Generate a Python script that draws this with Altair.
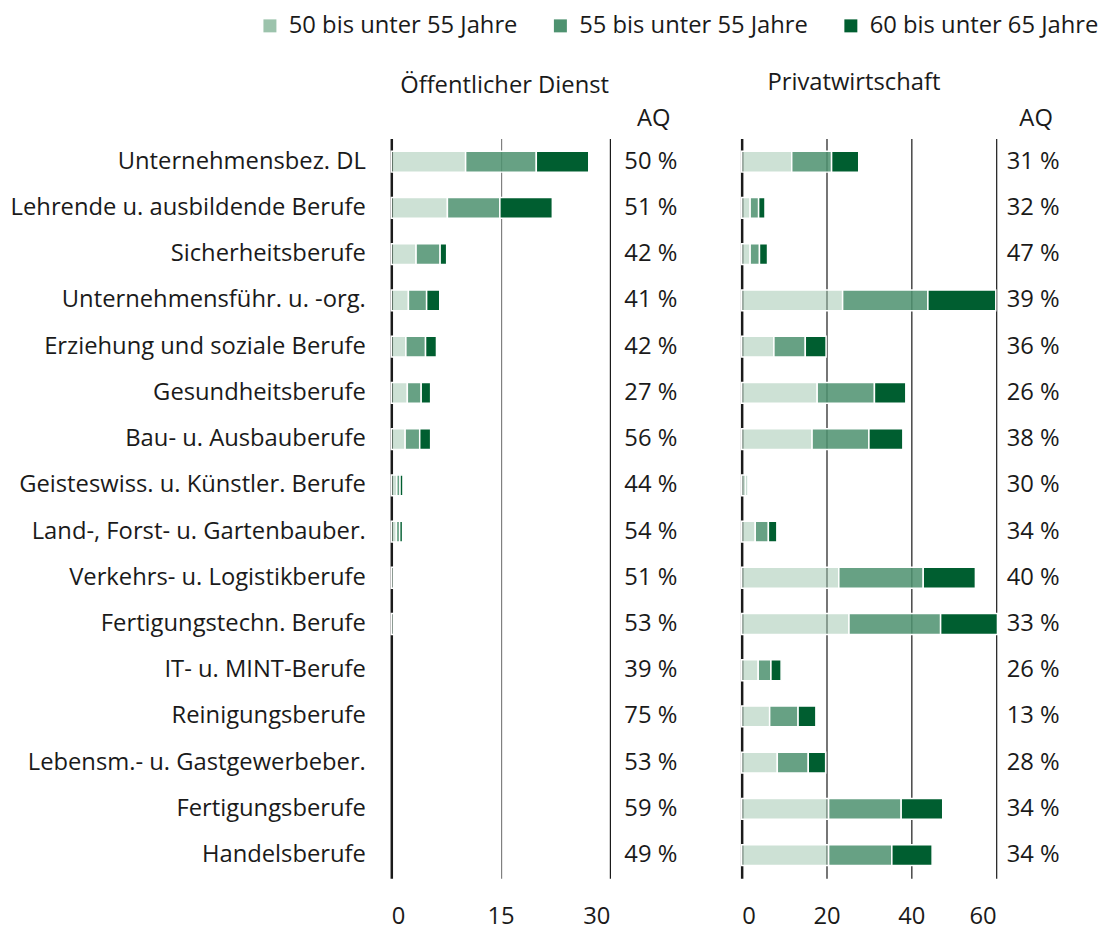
import altair as alt
import pandas as pd

categories = [
    "Unternehmensbez. DL",
    "Lehrende u. ausbildende Berufe",
    "Sicherheitsberufe",
    "Unternehmensführ. u. -org.",
    "Erziehung und soziale Berufe",
    "Gesundheitsberufe",
    "Bau- u. Ausbauberufe",
    "Geisteswiss. u. Künstler. Berufe",
    "Land-, Forst- u. Gartenbauber.",
    "Verkehrs- u. Logistikberufe",
    "Fertigungstechn. Berufe",
    "IT- u. MINT-Berufe",
    "Reinigungsberufe",
    "Lebensm.- u. Gastgewerbeber.",
    "Fertigungsberufe",
    "Handelsberufe",
]
age_groups = ["50 bis unter 55 Jahre", "55 bis unter 55 Jahre", "60 bis unter 65 Jahre"]

# Öffentlicher Dienst
oed_50_55 = [10.2, 7.7, 3.4, 2.35, 2.0, 2.2, 1.9, 0.75, 0.7, 0.3, 0.3, 0, 0, 0, 0, 0]
oed_55_60 = [9.7, 7.2, 3.3, 2.5, 2.7, 1.9, 2.0, 0.45, 0.45, 0, 0, 0, 0, 0, 0, 0]
oed_60_65 = [7.2, 7.2, 0.9, 1.8, 1.5, 1.3, 1.5, 0.4, 0.4, 0, 0, 0, 0, 0, 0, 0]
aq_oed = [50, 51, 42, 41, 42, 27, 56, 44, 54, 51, 53, 39, 75, 53, 59, 49]

# Privatwirtschaft
prv_50_55 = [11.8, 2.0, 2.0, 23.8, 7.6, 17.8, 16.6, 1.0, 3.2, 22.9, 25.3, 3.9, 6.6, 8.4, 20.5, 20.5]
prv_55_60 = [9.4, 2.0, 2.2, 20.1, 7.4, 13.5, 13.4, 0.5, 3.1, 19.9, 21.6, 3.0, 6.7, 7.3, 17.1, 14.9]
prv_60_65 = [6.4, 1.5, 1.9, 16.0, 4.9, 7.4, 8.0, 0.3, 2.0, 12.3, 13.4, 2.4, 4.2, 4.1, 9.8, 9.5]
aq_prv = [31, 32, 47, 39, 36, 26, 38, 30, 34, 40, 33, 26, 13, 28, 34, 34]

legend_colors = ["#9CC3AC", "#4E9270", "#005E30"]

FONT = "Open Sans"
FS = 23.8
TXT = "#1a1a1a"
H = 741


def long_df(a, b, c):
    rows = []
    for i, cat in enumerate(categories):
        for k, vals in enumerate([a, b, c]):
            if vals[i] > 0:
                rows.append({"Beruf": cat, "Gruppe": age_groups[k], "ord": k, "Wert": vals[i]})
    return pd.DataFrame(rows)


def aq_df(vals):
    return pd.DataFrame({"Beruf": categories, "AQ": [f"{v} %" for v in vals]})


yscale = alt.Scale(domain=categories, paddingInner=0.55, paddingOuter=0.275)

fill_opacity = {
    "condition": [
        {"test": "datum.ord === 0", "value": 0.5},
        {"test": "datum.ord === 1", "value": 0.86},
    ],
    "value": 1.0,
}


def bar_panel(df, dom, ticks, grid_color, width, title, show_y, legend, tdx, toff):
    xaxis = alt.Axis(
        values=ticks, grid=True, ticks=False, domain=False, title=None,
        labelFontSize=FS, labelPadding=26, labelColor=TXT, labelFont=FONT,
        gridColor=grid_color,
        gridWidth={"condition": {"test": "datum.value === 0", "value": 2.5}, "value": 1.2},
    )
    if show_y:
        yaxis = alt.Axis(ticks=False, domain=False, title=None, labelFontSize=FS,
                         labelPadding=26, labelLimit=600, labelColor=TXT, labelFont=FONT)
    else:
        yaxis = None
    return alt.Chart(df).mark_bar(stroke="white", strokeWidth=1.5).encode(
        y=alt.Y("Beruf:N", sort=categories, scale=yscale, axis=yaxis),
        x=alt.X("Wert:Q", stack="zero", scale=alt.Scale(domain=dom, nice=False), axis=xaxis),
        color=alt.Color("Gruppe:N", scale=alt.Scale(domain=age_groups, range=legend_colors), legend=legend),
        fillOpacity=fill_opacity,
        order=alt.Order("ord:Q"),
    ).properties(
        width=width, height=H,
        title=alt.Title(title, fontSize=FS, fontWeight="normal", font=FONT, color=TXT,
                        offset=toff, anchor="middle", dx=tdx),
    )


def aq_panel(vals, width, xpos, hx):
    txt = alt.Chart(aq_df(vals)).mark_text(fontSize=FS, align="center", font=FONT, color=TXT).encode(
        y=alt.Y("Beruf:N", sort=categories, scale=yscale, axis=None),
        x=alt.value(xpos),
        text="AQ:N",
    )
    head = alt.Chart(pd.DataFrame({"h": ["AQ"]})).mark_text(
        fontSize=FS, align="center", baseline="middle", font=FONT, color=TXT
    ).encode(x=alt.value(hx), y=alt.value(-20), text="h:N")
    return alt.layer(txt, head).properties(width=width, height=H)


legend = alt.Legend(
    orient="none", legendX=-133.5, legendY=-125, direction="horizontal", title=None,
    symbolType="square", symbolSize=169, symbolStrokeWidth=0, labelFontSize=FS,
    labelFont=FONT, labelColor=TXT, columnPadding=31, labelOffset=7, labelLimit=400,
)

left = bar_panel(
    long_df(oed_50_55, oed_55_60, oed_60_65), [0, 30], [0, 15, 30],
    {"condition": {"test": "datum.value === 15", "value": "#808080"}, "value": "#1a1a1a"},
    219, "Öffentlicher Dienst", True, legend, 4, 41,
)
right = bar_panel(
    long_df(prv_50_55, prv_55_60, prv_60_65), [0, 60], [0, 20, 40, 60],
    "#1a1a1a", 255, "Privatwirtschaft", False, legend, -15, 44,
)

chart = alt.hconcat(
    left, aq_panel(aq_oed, 132, 41, 44), right, aq_panel(aq_prv, 76, 37, 40),
    spacing=0, bounds="flush",
).resolve_scale(x="independent").configure_view(stroke=None).properties(
    padding={"left": 2, "top": 5, "right": 0, "bottom": 5}
)

chart.save("out.html", embed_options={"renderer": "svg", "actions": False})
